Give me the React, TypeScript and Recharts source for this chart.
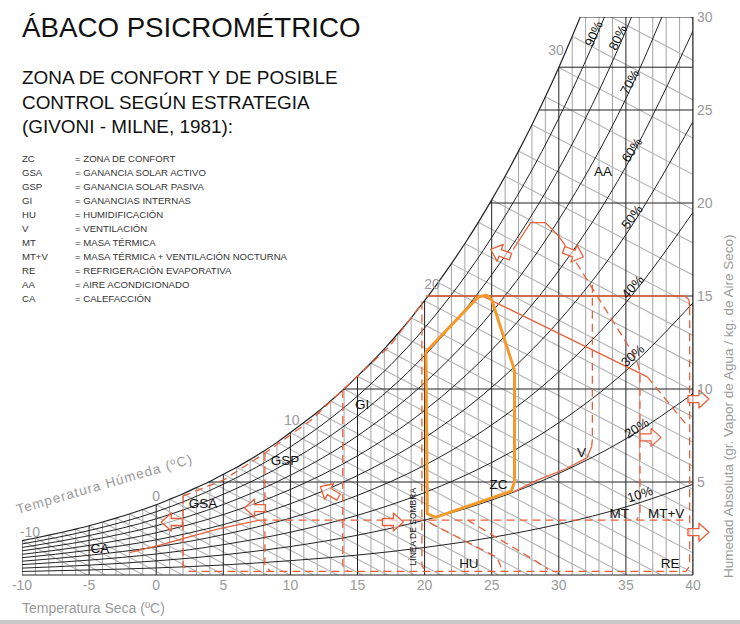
import React from 'react';
import { ComposedChart, Line, XAxis, YAxis, ReferenceDot } from 'recharts';

const W = 740;
const H = 624;
const FONT = '"Liberation Sans", Arial, Helvetica, sans-serif';
const RED = '#e8603a';
const ORANGE = '#f39a2b';
const DARK = '#222';
const GRID = '#9a9a9a';
const WET = '#b4b4b4';

const DRY_TICKS = [-10, -5, 0, 5, 10, 15, 20, 25, 30, 35, 40];
const HUM_TICKS = [5, 10, 15, 20, 25, 30];

// saturation humidity (g/kg) for each °C of dry temperature
const SAT_T = [-10, -9, -8, -7, -6, -5, -4, -3, -2, -1, 0, 1, 2, 3, 4, 5, 6, 7, 8, 9, 10, 11, 12, 13, 14, 15, 16, 17, 18, 19, 20, 21, 22, 23, 24, 25, 26, 27, 28, 29, 30, 31, 32, 33, 34, 35, 36, 37, 38, 39, 40];
const SAT_W = [1.85, 1.99, 2.14, 2.3, 2.47, 2.65, 2.85, 3.06, 3.28, 3.52, 3.78, 4.07, 4.37, 4.7, 5.03, 5.42, 5.79, 6.21, 6.65, 7.13, 7.66, 8.2, 8.75, 9.36, 10.0, 10.69, 11.4, 12.16, 12.97, 13.83, 14.75, 15.72, 16.74, 17.82, 18.96, 20.17, 21.44, 22.79, 24.21, 25.71, 27.29, 28.96, 30.72, 32.57, 34.52, 36.59, 38.77, 41.06, 43.49, 46.04, 48.75];

// relative humidity curves (g/kg) every 5 °C
const RH_T = [-10, -5, 0, 5, 10, 15, 20, 25, 30, 35, 40];
const RH_10 = [0.19, 0.27, 0.38, 0.54, 0.77, 1.07, 1.48, 2.02, 2.73, 3.66, 4.88];
const RH_20 = [0.37, 0.53, 0.76, 1.08, 1.53, 2.14, 2.95, 4.03, 5.46, 7.32, 9.75];
const RH_30 = [0.56, 0.8, 1.13, 1.63, 2.3, 3.21, 4.43, 6.05, 8.19, 10.98, 14.63];
const RH_40 = [0.74, 1.06, 1.51, 2.17, 3.06, 4.28, 5.9, 8.07, 10.92, 14.64, 19.5];
const RH_50 = [0.93, 1.33, 1.89, 2.71, 3.83, 5.35, 7.38, 10.09, 13.65, 18.3, 24.38];
const RH_60 = [1.11, 1.59, 2.27, 3.25, 4.6, 6.41, 8.85, 12.1, 16.37, 21.95, 29.25];
const RH_70 = [1.3, 1.86, 2.65, 3.79, 5.36, 7.48, 10.33, 14.12, 19.1, 25.61, 34.13];
const RH_80 = [1.48, 2.12, 3.02, 4.34, 6.13, 8.55, 11.8, 16.14, 21.83, 29.27, 39.0];
const RH_90 = [1.67, 2.39, 3.4, 4.88, 6.89, 9.62, 13.28, 18.15, 24.56, 32.93, 43.88];
const RH_CURVES = [RH_10, RH_20, RH_30, RH_40, RH_50, RH_60, RH_70, RH_80, RH_90];

const RH_LABELS = [
  { text: '10%', t: 36.05, w: 4.35, angle: -18 },
  { text: '20%', t: 35.8, w: 7.9, angle: -32 },
  { text: '30%', t: 35.5, w: 11.8, angle: -42 },
  { text: '40%', t: 35.5, w: 15.5, angle: -48 },
  { text: '50%', t: 35.45, w: 19.25, angle: -53 },
  { text: '60%', t: 35.45, w: 22.85, angle: -57 },
  { text: '70%', t: 35.3, w: 26.5, angle: -61 },
  { text: '80%', t: 34.4, w: 28.9, angle: -64 },
  { text: '90%', t: 32.6, w: 29.1, angle: -66 },
];

// wet bulb temperatures (°C) drawn from the saturation curve
const WET_BULB_T = [-10, -9, -8, -7, -6, -5, -4, -3, -2, -1, 0, 1, 2, 3, 4, 5, 6, 7, 8, 9, 10, 11, 12, 13, 14, 15, 16, 17, 18, 19, 20, 21, 22, 23, 24, 25, 26, 27, 28, 29, 30, 31, 32, 33];
const WET_BULB_SLOPE = 0.38; // g/kg lost per °C along a wet bulb line
const WET_LABELS = [
  { text: '-10', t: -9.4, w: 2.3 },
  { text: '0', t: 0.0, w: 4.25 },
  { text: '10', t: 10.1, w: 8.33 },
  { text: '20', t: 20.55, w: 15.65 },
  { text: '30', t: 29.8, w: 28.2 },
];

// horizontal humidity lines: level and where they leave the saturation curve
const HUM_LINES_W = [5, 10, 15, 20, 25, 27.3, 30];
const HUM_LINES_T = [3.9, 14.0, 20.25, 24.85, 28.55, 30.0, 31.65];

// strategy zones (dry temp, humidity)
const RED_SOLID = [
  [[20.1, 15], [39.4, 15], [39.7, 14.8], [39.75, 14.4]],
  [[24.3, 15], [36.6, 10.65]],
  [[-2, 1.2], [0, 1.55], [2, 1.95], [4.5, 2.45], [7.7, 2.95]],
  [[26.6, 4.46], [28.4, 5.1], [30.5, 5.7], [32.1, 6.3], [32.45, 6.9], [32.5, 7.3]],
  [[26.6, 17.5], [27.9, 18.95], [29.0, 18.95], [29.9, 18.3], [30.5, 17.7]],
];
const RED_DASHED = [
  [[39.75, 14.4], [39.75, 0.5], [39.5, 0.2]],
  [[19.8, 14.7], [19.8, 0.5], [20.1, 0.2]],
  [[2, 4.25], [5, 5.1], [8.1, 6.55], [11.5, 8.3], [13.9, 9.95], [17.4, 12.3], [19.8, 14.6]],
  [[2, 4.25], [2, 0.5], [2.4, 0.2]],
  [[8.1, 6.55], [8.1, 0.5], [8.5, 0.2]],
  [[13.9, 9.95], [13.9, 0.5], [14.3, 0.2]],
  [[2.4, 0.2], [39.5, 0.2]],
  [[7.7, 2.95], [39.5, 2.95]],
  [[20.4, 2.8], [25.4, 0.95], [25.7, 0.4]],
  [[23.2, 2.95], [28.3, 0.75], [29.2, 0.3]],
  [[32.5, 15.6], [32.5, 7.3]],
  [[31.3, 16.8], [35.8, 11.6], [36.05, 10.9], [36.05, 3.3], [35.8, 2.95]],
  [[36.6, 10.65], [39.6, 8.0]],
];
const COMFORT = [[20.1, 12.0], [24.0, 14.95], [24.6, 15.05], [25.0, 14.8], [26.7, 11.0], [26.7, 5.0], [26.45, 4.5], [20.8, 3.1], [20.2, 3.3], [20.1, 12.0]];

const ARROWS = [
  { t: 1.2, w: 2.85, angle: 180 },
  { t: 7.4, w: 3.6, angle: 180 },
  { t: 12.95, w: 4.46, angle: -150 },
  { t: 17.6, w: 2.85, angle: 0 },
  { t: 25.7, w: 17.3, angle: -160 },
  { t: 31.06, w: 17.3, angle: 20 },
  { t: 36.8, w: 7.4, angle: 0 },
  { t: 40.37, w: 9.46, angle: 0 },
  { t: 40.37, w: 2.3, angle: 0 },
];

const ZONE_LABELS = [
  { text: 'AA', t: 33.3, w: 21.67 },
  { text: 'GI', t: 15.34, w: 9.19 },
  { text: 'GSP', t: 9.6, w: 6.13 },
  { text: 'GSA', t: 3.49, w: 3.82 },
  { text: 'CA', t: -4.19, w: 1.4 },
  { text: 'ZC', t: 25.5, w: 4.84 },
  { text: 'V', t: 31.7, w: 6.6 },
  { text: 'MT', t: 34.5, w: 3.33 },
  { text: 'MT+V', t: 38.0, w: 3.33 },
  { text: 'HU', t: 23.3, w: 0.6 },
  { text: 'RE', t: 38.3, w: 0.64 },
];
const SHADOW_LABEL = { text: 'LÍNEA DE SOMBRA', t: 19.1, w: 2.6 };

const LEGEND_CODES = ['ZC', 'GSA', 'GSP', 'GI', 'HU', 'V', 'MT', 'MT+V', 'RE', 'AA', 'CA'];
const LEGEND_NAMES = [
  '= ZONA DE CONFORT',
  '= GANANCIA SOLAR ACTIVO',
  '= GANANCIA SOLAR PASIVA',
  '= GANANCIAS INTERNAS',
  '= HUMIDIFICACIÓN',
  '= VENTILACIÓN',
  '= MASA TÉRMICA',
  '= MASA TÉRMICA + VENTILACIÓN NOCTURNA',
  '= REFRIGERACIÓN EVAPORATIVA',
  '= AIRE ACONDICIONADO',
  '= CALEFACCIÓN',
];

type Pt = { x: number; y: number };
type Seg = { key: string; data: Pt[]; stroke: string; width: number; dash?: string; curve?: 'linear' | 'monotone' };

const toPts = (arr: number[][]): Pt[] => arr.map(([x, y]) => ({ x, y }));

function buildSegments(): Seg[] {
  const segs: Seg[] = [];
  // thin vertical grid
  SAT_T.forEach((t, i) => {
    if (t % 5 !== 0) {
      segs.push({ key: 'v' + t, data: [{ x: t, y: 0 }, { x: t, y: Math.min(SAT_W[i], 30) }], stroke: GRID, width: 0.9 });
    }
  });
  // wet bulb lines
  WET_BULB_T.forEach((tw) => {
    const w0 = SAT_W[SAT_T.indexOf(tw)];
    let tEnd = tw + w0 / WET_BULB_SLOPE;
    let wEnd = 0;
    if (tEnd > 40) {
      tEnd = 40;
      wEnd = w0 - WET_BULB_SLOPE * (40 - tw);
    }
    segs.push({ key: 'wb' + tw, data: [{ x: tw, y: w0 }, { x: tEnd, y: wEnd }], stroke: WET, width: 1.1 });
  });
  // dark vertical grid
  SAT_T.forEach((t, i) => {
    if (t % 5 === 0) {
      segs.push({ key: 'V' + t, data: [{ x: t, y: 0 }, { x: t, y: Math.min(SAT_W[i], 30) }], stroke: DARK, width: 1 });
    }
  });
  // horizontal lines
  HUM_LINES_W.forEach((w, i) => {
    segs.push({ key: 'h' + w, data: [{ x: HUM_LINES_T[i], y: w }, { x: 40, y: w }], stroke: DARK, width: 1 });
  });
  // RH curves
  RH_CURVES.forEach((c, k) => {
    segs.push({ key: 'rh' + k, data: RH_T.map((t, i) => ({ x: t, y: c[i] })), stroke: DARK, width: 1, curve: 'monotone' });
  });
  segs.push({ key: 'sat', data: SAT_T.map((t, i) => ({ x: t, y: SAT_W[i] })), stroke: DARK, width: 1.2, curve: 'monotone' });
  // strategy zones
  RED_DASHED.forEach((p, k) => segs.push({ key: 'rd' + k, data: toPts(p), stroke: RED, width: 1.3, dash: '8 5' }));
  RED_SOLID.forEach((p, k) => segs.push({ key: 'rs' + k, data: toPts(p), stroke: RED, width: 1.3 }));
  segs.push({ key: 'zc', data: toPts(COMFORT), stroke: ORANGE, width: 3 });
  return segs;
}

const SEGMENTS = buildSegments();

const arrowShape = (angle: number) => (props: any) => {
  const { cx, cy } = props;
  if (cx == null || cy == null) return <g />;
  return (
    <g transform={`translate(${cx},${cy}) rotate(${angle})`}>
      <polygon points="-10,-3.5 1,-3.5 1,-9 11,0 1,9 1,3.5 -10,3.5" fill="#fff" fillOpacity={0.6} stroke={RED} strokeWidth={1.3} strokeLinejoin="round" />
    </g>
  );
};

const textShape = (text: string, opts: { angle?: number; size?: number; fill?: string; spacing?: number }) => (props: any) => {
  const { cx, cy } = props;
  if (cx == null || cy == null) return <g />;
  const angle = opts.angle || 0;
  return (
    <text
      x={cx}
      y={cy}
      textAnchor="middle"
      dominantBaseline="central"
      transform={angle ? `rotate(${angle} ${cx} ${cy})` : undefined}
      fontSize={opts.size || 13.5}
      fontFamily={FONT}
      fill={opts.fill || '#111'}
      letterSpacing={opts.spacing}
    >
      {text}
    </text>
  );
};

export default function App() {
  return (
    <div style={{ position: 'absolute', left: 0, top: 0, width: W, height: H, background: '#fff', fontFamily: FONT }}>
      <ComposedChart width={W} height={H} margin={{ top: 17, right: 7, bottom: 19, left: 22 }}>
        <XAxis
          type="number"
          dataKey="x"
          domain={[-10, 40]}
          ticks={DRY_TICKS}
          allowDataOverflow
          axisLine={{ stroke: DARK }}
          tickLine={false}
          tickSize={3}
          tickMargin={2}
          height={30}
          tick={{ fill: '#9a9a9a', fontSize: 14, fontFamily: FONT }}
        />
        <YAxis
          type="number"
          orientation="right"
          dataKey="y"
          domain={[0, 30]}
          ticks={HUM_TICKS}
          allowDataOverflow
          axisLine={{ stroke: DARK }}
          tickLine={false}
          tickSize={2}
          tickMargin={2}
          width={40}
          tick={{ fill: '#9a9a9a', fontSize: 14, fontFamily: FONT, textAnchor: 'start' }}
        />
        {SEGMENTS.map((s) => (
          <Line
            key={s.key}
            data={s.data}
            dataKey="y"
            type={s.curve || 'linear'}
            stroke={s.stroke}
            strokeWidth={s.width}
            strokeDasharray={s.dash}
            dot={false}
            activeDot={false}
            isAnimationActive={false}
            legendType="none"
          />
        ))}
        {ARROWS.map((a, i) => (
          <ReferenceDot key={'ar' + i} x={a.t} y={a.w} r={0} ifOverflow="visible" shape={arrowShape(a.angle)} />
        ))}
        {RH_LABELS.map((l) => (
          <ReferenceDot key={l.text} x={l.t} y={l.w} r={0} ifOverflow="visible" shape={textShape(l.text, { angle: l.angle, size: 13 })} />
        ))}
        {WET_LABELS.map((l) => (
          <ReferenceDot key={'wl' + l.text} x={l.t} y={l.w} r={0} ifOverflow="visible" shape={textShape(l.text, { size: 14, fill: '#9a9a9a' })} />
        ))}
        {ZONE_LABELS.map((l) => (
          <ReferenceDot key={'z' + l.text} x={l.t} y={l.w} r={0} ifOverflow="visible" shape={textShape(l.text, { size: 13.5 })} />
        ))}
        <ReferenceDot x={SHADOW_LABEL.t} y={SHADOW_LABEL.w} r={0} ifOverflow="visible" shape={textShape(SHADOW_LABEL.text, { angle: -90, size: 8.5 })} />
      </ComposedChart>
      <svg width={W} height={H} style={{ position: 'absolute', left: 0, top: 0, pointerEvents: 'none' }}>
        <text x={22} y={37} fontSize={27.7} fontFamily={FONT} fill="#111">ÁBACO PSICROMÉTRICO</text>
        <text x={22} y={84} fontSize={18.9} fontFamily={FONT} fill="#111">ZONA DE CONFORT Y DE POSIBLE</text>
        <text x={22} y={108.5} fontSize={18.9} fontFamily={FONT} fill="#111">CONTROL SEGÚN ESTRATEGIA</text>
        <text x={22} y={132.5} fontSize={18.9} fontFamily={FONT} fill="#111">(GIVONI - MILNE, 1981):</text>
        {LEGEND_CODES.map((c, i) => (
          <g key={c}>
            <text x={22} y={161.5 + i * 14} fontSize={9.6} fontFamily={FONT} fill="#333">{c}</text>
            <text x={75} y={161.5 + i * 14} fontSize={9.6} fontFamily={FONT} fill="#333">{LEGEND_NAMES[i]}</text>
          </g>
        ))}
        <text x={22} y={613} fontSize={14} fontFamily={FONT} fill="#9a9a9a">Temperatura Seca (ºC)</text>
        <text x={18} y={514} fontSize={13.5} fontFamily={FONT} fill="#9a9a9a" transform="rotate(-16.2 18 514)" textLength={182} lengthAdjust="spacing">Temperatura Húmeda (ºC)</text>
        <text x={733} y={578} fontSize={13.5} fontFamily={FONT} fill="#9a9a9a" transform="rotate(-90 733 578)">Humedad Absoluta (gr. Vapor de Agua / kg. de Aire Seco)</text>
      </svg>
      <div style={{ position: 'absolute', left: 0, top: 620, width: W, height: 4, background: '#c8c8c8' }} />
    </div>
  );
}
